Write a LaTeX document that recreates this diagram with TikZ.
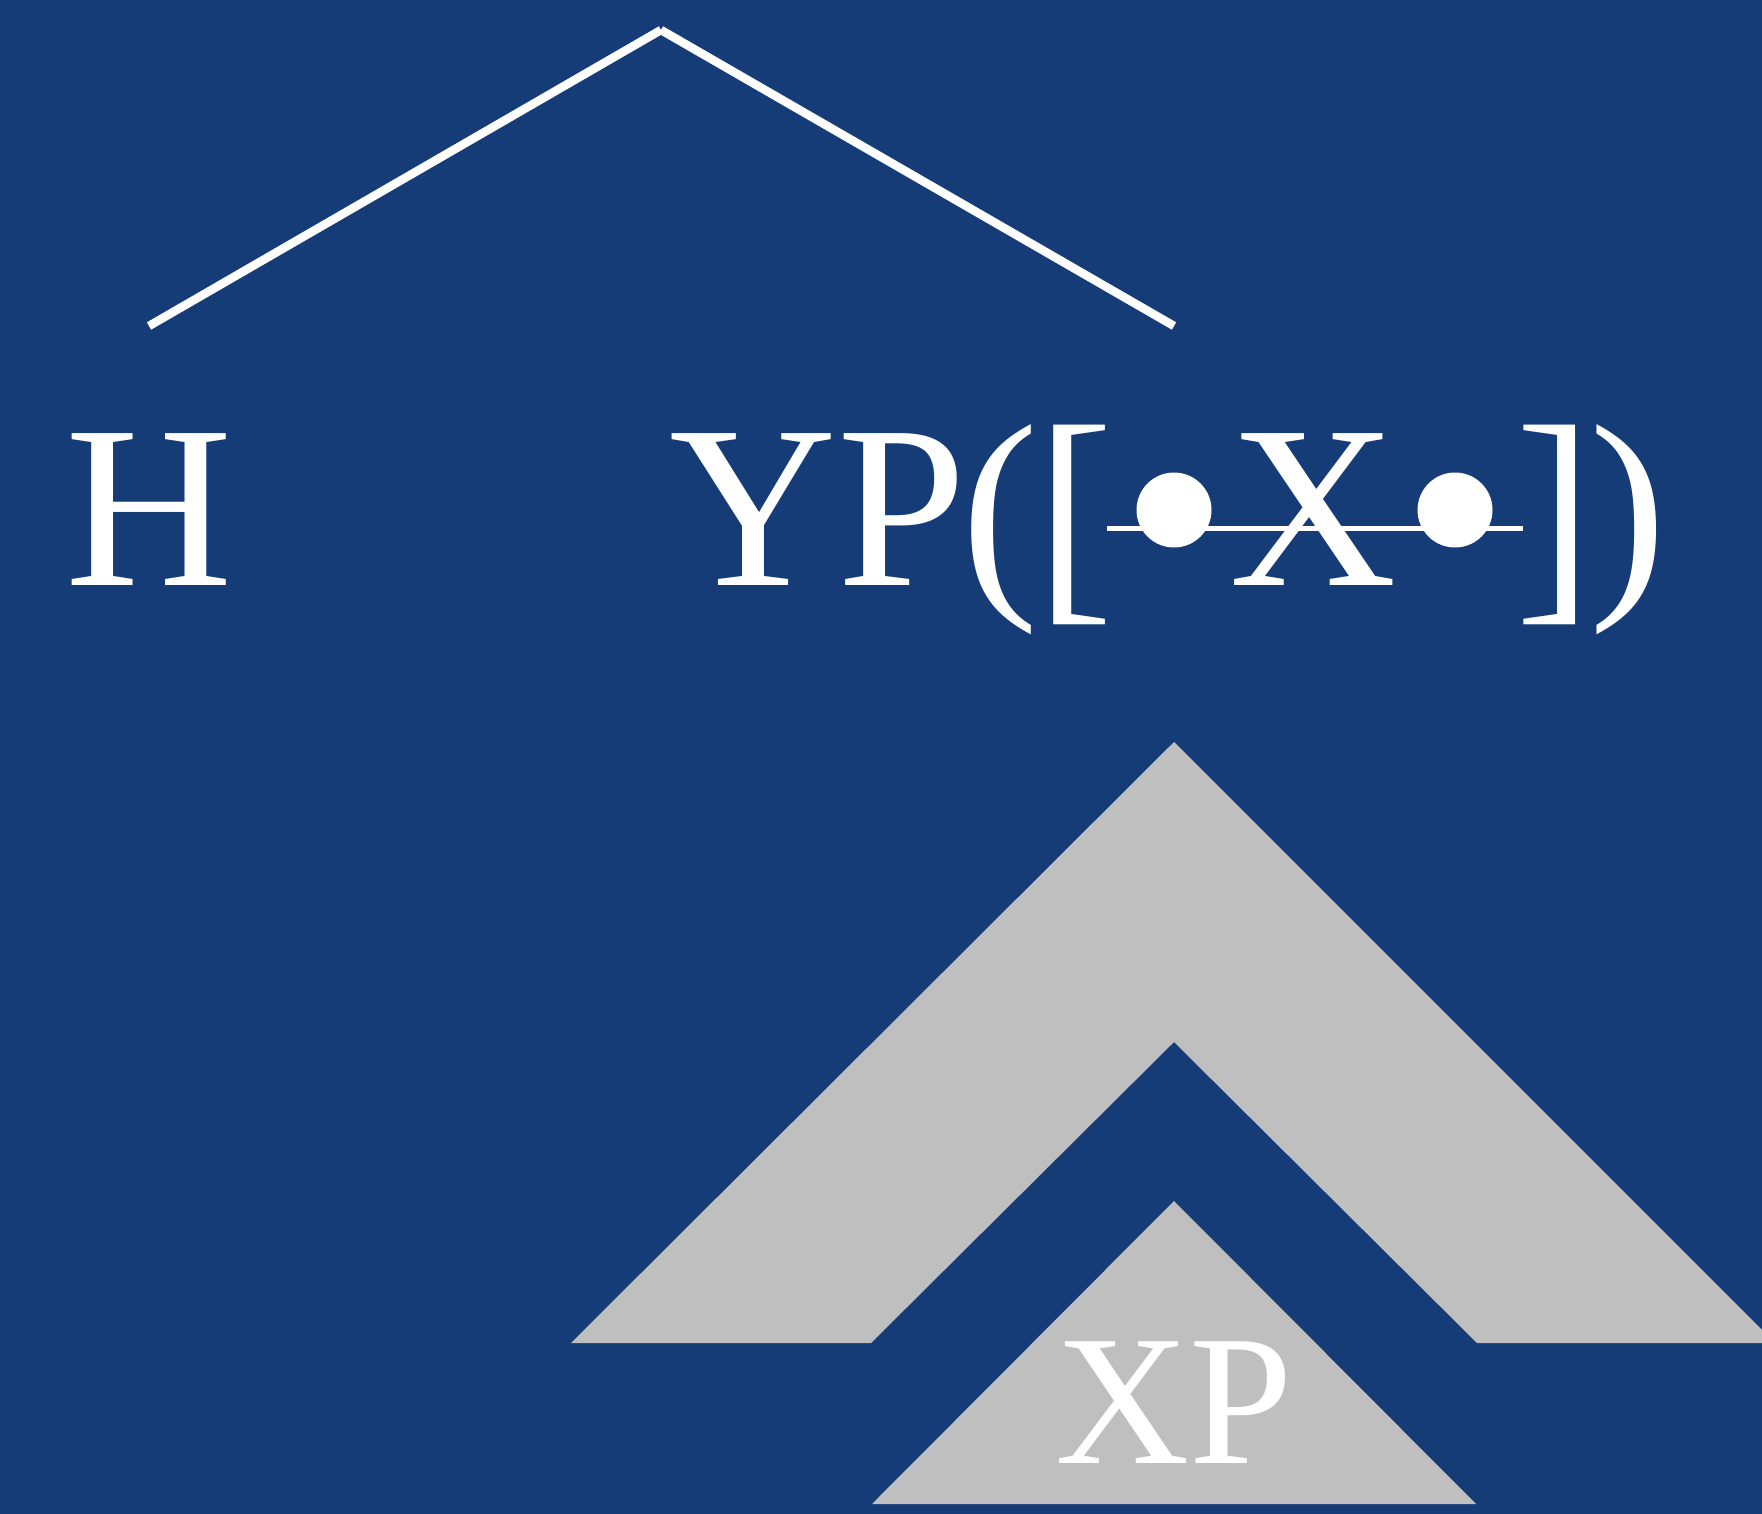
\documentclass[tikz,border=0pt]{standalone}
\usepackage{fontspec}
\setmainfont{Liberation Serif}
\definecolor{bg}{RGB}{22,60,120}
\definecolor{gr}{RGB}{191,191,191}
\begin{document}
\begin{tikzpicture}[x=1pt,y=-1pt,
  lbl/.style={text=white, inner sep=0pt, anchor=base, font=\fontsize{232}{240}\selectfont},
  small/.style={text=white, inner sep=0pt, anchor=base, font=\fontsize{186}{190}\selectfont},
  branch/.style={draw=white, line width=8.5pt},
  strike/.style={draw=white, line width=5pt},
  dot/.style={circle, fill=white, minimum size=75pt, inner sep=0pt},
  shade/.style={fill=gr}]
\fill[bg] (0,0) rectangle (1762,1514);
\useasboundingbox (0,0) rectangle (1762,1514);
% gray shapes
\begin{scope}
\clip (0,0) rectangle (1762,1514);
\fill[shade] (1174,742) -- (1775,1343) -- (1477,1343) -- (1174,1042) -- (871,1343) -- (571,1343) -- cycle;
\fill[shade] (1174,1201) -- (1476,1504) -- (872,1504) -- cycle;
\end{scope}
% tree branches
\coordinate (top) at (661,30);
\coordinate (leftend) at (149,326);
\coordinate (rightend) at (1174,326);
\draw[branch] (top) -- (leftend);
\draw[branch] (top) -- (rightend);
% labels
\node[lbl] (H) at (149,585) {H};
\node[lbl] (YP) at (818,585) {YP};
\node[lbl] (lparen) at (1000,585) {(};
\node[lbl, yscale=1.04] (lbrack) at (1075,592) {[};
\node[dot] (b1) at (1174,510) {};
\node[lbl] (X) at (1313,585) {X};
\node[dot] (b2) at (1455,510) {};
\node[lbl, yscale=1.04] (rbrack) at (1554,592) {]};
\node[lbl] (rparen) at (1628,585) {)};
\coordinate (s1) at (1107,528);
\coordinate (s2) at (1523,528);
\draw[strike] (s1) -- (s2);
\node[small] (XP) at (1174,1463) {XP};
\end{tikzpicture}
\end{document}
